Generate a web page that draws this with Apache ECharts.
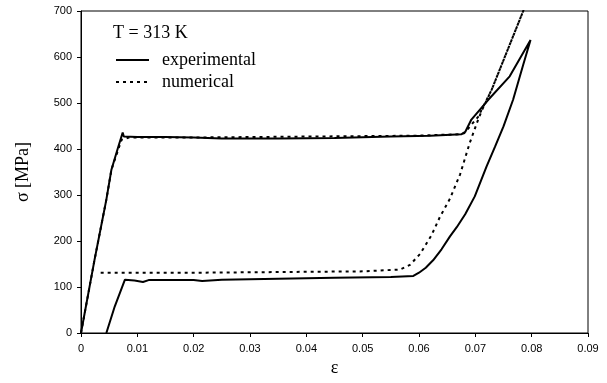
<!DOCTYPE html>
<html>
<head>
<meta charset="utf-8">
<script src="https://cdn.jsdelivr.net/npm/echarts@6/dist/echarts.min.js"></script>
<style>html,body{margin:0;padding:0;background:#fff}#c{width:607px;height:383px}</style>
</head>
<body>
<div id="c"></div>
<script>
// experimental loop
var expEps = [0, 0.0024, 0.0045, 0.0054, 0.0065, 0.0074, 0.0076, 0.010, 0.015, 0.020, 0.025, 0.035, 0.045, 0.055, 0.062, 0.0675, 0.0682, 0.0693, 0.0723, 0.0761, 0.0798,
  0.0785, 0.0767, 0.0750, 0.0735, 0.0720, 0.0699, 0.0682, 0.0667, 0.0655, 0.0640, 0.0625, 0.0612, 0.0600, 0.0590,
  0.055, 0.045, 0.035, 0.025, 0.0215, 0.020, 0.012, 0.011, 0.0095, 0.0078, 0.0075, 0.0060, 0.0045];
var expSig = [0, 159, 290, 355, 400, 436, 427, 426, 426, 425, 423, 423, 424, 427, 429, 432, 437, 464, 507, 558, 637,
  583, 507, 449, 405, 362, 297, 258, 230, 210, 182, 158, 142, 131, 124,
  122, 120, 118, 116, 113, 115, 115, 111, 114, 116, 120, 58, 0];
// numerical loop
var numEps = [0, 0.0024, 0.0045, 0.0054, 0.0072, 0.0085, 0.020, 0.040, 0.060, 0.067, 0.068, 0.0705, 0.0729, 0.0785, 0.0800,
  0.0785, 0.0729, 0.0712, 0.0705, 0.0690, 0.0673, 0.0655, 0.0637, 0.0622, 0.0602, 0.0584, 0.0566, 0.050, 0.040, 0.030, 0.020, 0.010, 0.003];
var numSig = [0, 159, 290, 355, 420, 425, 425, 427, 429, 432, 434, 470, 529, 700, 745,
  700, 529, 485, 464, 413, 345, 292, 252, 212, 172, 148, 138, 134, 133, 132, 131, 131, 131];
var xTicks = [0, 0.01, 0.02, 0.03, 0.04, 0.05, 0.06, 0.07, 0.08, 0.09];
var yTicks = [0, 100, 200, 300, 400, 500, 600, 700];

function pairs(a, b) { return a.map(function (v, i) { return [v, b[i]]; }); }

var serif = '"Liberation Serif", "DejaVu Serif", serif';
var sans = '"Liberation Sans", Arial, sans-serif';

var chart = echarts.init(document.getElementById('c'), null, {renderer: 'canvas'});
chart.setOption({
  animation: false,
  backgroundColor: '#fff',
  title: {
    text: 'T = 313 K', left: 113, top: 24, padding: 0,
    textStyle: {fontFamily: serif, fontSize: 18, fontWeight: 'normal', color: '#000'}
  },
  legend: {
    orient: 'vertical', left: 115, top: 51, padding: 0,
    itemWidth: 33, itemHeight: 12, itemGap: 4,
    itemStyle: {opacity: 0},
    data: ['experimental', 'numerical'],
    textStyle: {fontFamily: serif, fontSize: 18, color: '#000', lineHeight: 18, padding: [0, 0, 0, 8]}
  },
  grid: {left: 81, right: 19, top: 11, bottom: 50, show: true, borderColor: '#000', borderWidth: 1, backgroundColor: 'transparent'},
  xAxis: {
    type: 'value', min: xTicks[0], max: xTicks[xTicks.length - 1], interval: 0.01,
    name: 'ε', nameLocation: 'middle', nameGap: 25,
    nameTextStyle: {fontFamily: serif, fontSize: 18, color: '#000'},
    axisLine: {show: true, lineStyle: {color: '#000', width: 1}},
    axisTick: {show: true, inside: false, length: 4, lineStyle: {color: '#000'}},
    splitLine: {show: false},
    axisLabel: {
      margin: 10, fontFamily: sans, fontSize: 11, color: '#000',
      formatter: function (v) { return v === 0 ? '0' : v.toFixed(2); }
    }
  },
  yAxis: {
    type: 'value', min: yTicks[0], max: yTicks[yTicks.length - 1], interval: 100,
    name: 'σ [MPa]', nameLocation: 'middle', nameGap: 49, nameRotate: 90,
    nameTextStyle: {fontFamily: serif, fontSize: 18, color: '#000'},
    axisLine: {show: true, lineStyle: {color: '#000', width: 1}},
    axisTick: {show: true, inside: false, length: 4, lineStyle: {color: '#000'}},
    splitLine: {show: false},
    axisLabel: {margin: 9, fontFamily: sans, fontSize: 11, color: '#000'}
  },
  series: [
    {
      name: 'experimental', type: 'line', data: pairs(expEps, expSig),
      symbol: 'none', clip: true, color: '#000',
      lineStyle: {color: '#000', width: 2, type: 'solid'}
    },
    {
      name: 'numerical', type: 'line', data: pairs(numEps, numSig),
      symbol: 'none', clip: true, color: '#000',
      lineStyle: {color: '#000', width: 2, type: [3, 4]}
    }
  ]
});
</script>
</body>
</html>
